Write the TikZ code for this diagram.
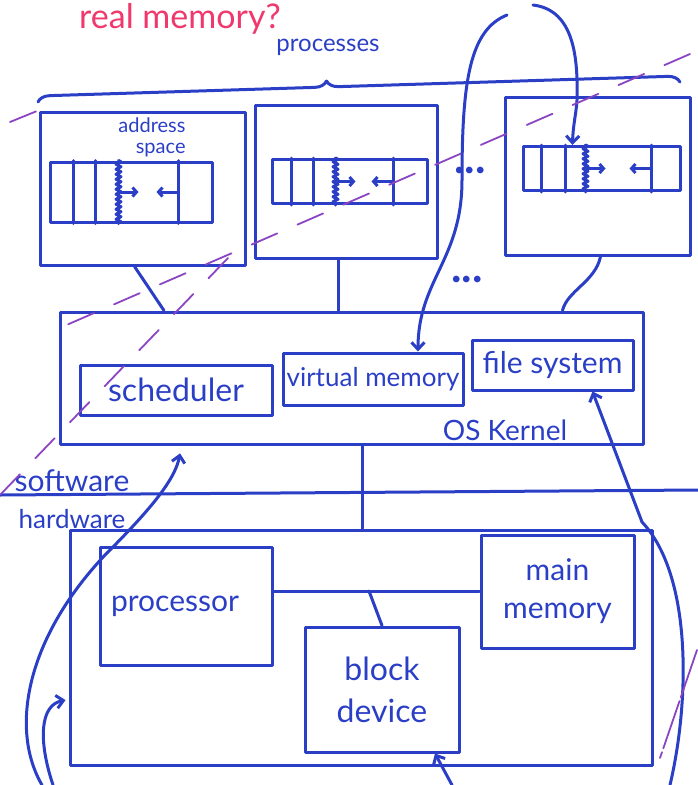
\documentclass[tikz,border=0pt]{standalone}
\usepackage{fontspec}
\setmainfont{Lato}
\usetikzlibrary{arrows.meta, calc, decorations.pathmorphing, decorations.pathreplacing}
\definecolor{inkblue}{HTML}{2B3FC6}
\definecolor{redpen}{HTML}{F0386C}
\definecolor{lilac}{HTML}{8B45C2}
\tikzset{
	>={Straight Barb[length=7pt,width=13pt]}, % puntas abiertas
	box/.style={draw=inkblue, inner sep=0pt}, % cajas dibujadas a mano
	lbl/.style={text=inkblue, font=\fontsize{30}{32}\selectfont}, % texto normal
	small/.style={font=\fontsize{24}{24}\selectfont}, % texto chico
	strip/.style={box, minimum height=44pt}, % espacio de direcciones
	zig/.style={decorate, decoration={zigzag, segment length=5pt, amplitude=2.5pt}},
	dots/.style={lbl, font=\bfseries\fontsize{44}{44}\selectfont},
	dash line/.style={draw=lilac, line width=1.8pt, dash pattern=on 28pt off 22pt}
}

\begin{document}
\begin{tikzpicture}[x=1pt, y=-1pt, line width=3pt, inkblue, line cap=round, line join=round]
	\useasboundingbox (0,0) rectangle (698,785);
	% procesos
	\node[lbl, text=redpen, font=\fontsize{34}{36}\selectfont] (realmem) at (180,19) {real memory?};
	\node[lbl, small] (procs) at (328,47) {processes};
	\node[box, minimum width=205pt, minimum height=153pt] (p1) at (142.5,188.5) {};
	\node[box, minimum width=182pt, minimum height=153pt] (p2) at (346,181.5) {};
	\node[box, minimum width=185pt, minimum height=158pt] (p3) at (597.5,176) {};
	\node[lbl, font=\fontsize{20}{21}\selectfont, align=right] (aspace) at (152,137) {address\\space};
	\node[strip, minimum width=162pt, minimum height=60pt] (s1) at (131,192) {};
	\node[strip, minimum width=155pt] (s2) at (349.5,181.5) {};
	\node[strip, minimum width=157pt] (s3) at (601.5,168.5) {};
	\node[dots] (dots1) at (470,170) {...};
	\node[dots] (dots2) at (467,279) {...};
	\draw[decorate, decoration={brace, amplitude=12pt, aspect=0.45}] (38,102) -- (680,82);
	\foreach \s/\a/\b/\z/\r in {s1/25/47/70/130, s2/21/43/65/123, s3/20/44/64/130} {
		\draw ([xshift=\a pt]\s.north west) -- ([xshift=\a pt]\s.south west);
		\draw ([xshift=\b pt]\s.north west) -- ([xshift=\b pt]\s.south west);
		\draw[zig] ([xshift=\z pt]\s.north west) -- ([xshift=\z pt]\s.south west);
		\draw ([xshift=\r pt]\s.north west) -- ([xshift=\r pt]\s.south west);
		\draw[->, >={Straight Barb[length=4pt,width=9pt]}] ([xshift=\z pt]\s.west) -- ++(20,0);
		\draw[->, >={Straight Barb[length=4pt,width=9pt]}] ([xshift=\r pt]\s.west) -- ++(-22,0);
	}
	% kernel
	\node[box, minimum width=583pt, minimum height=132pt] (kernel) at (351.5,378) {};
	\node[box, lbl, font=\fontsize{32}{34}\selectfont, minimum width=192pt, minimum height=50pt] (sched) at (176,390) {scheduler};
	\node[box, lbl, font=\fontsize{26}{28}\selectfont, minimum width=180pt, minimum height=52pt] (vm) at (373,379) {virtual memory};
	\node[box, lbl, minimum width=161pt, minimum height=50pt] (fs) at (552.5,365) {file system};
	\node[lbl, font=\fontsize{28}{30}\selectfont] (osk) at (505,430) {OS Kernel};
	\draw ([xshift=-8pt]p1.south) -- ($(kernel.north west)!0.18!(kernel.north east)$);
	\draw ([xshift=-8pt]p2.south) -- ([xshift=-8pt]p2.south |- kernel.north);
	\draw ([xshift=3pt]p3.south) .. controls +(-5,25) and +(5,-20) .. ($(kernel.north west)!0.86!(kernel.north east)$);
	% software / hardware
	\coordinate (swl) at (0,495);
	\coordinate (swr) at (698,490);
	\draw (swl) -- (swr);
	\node[lbl, font=\fontsize{30}{32}\selectfont] (swtext) at (72,481) {software};
	\node[lbl, font=\fontsize{26}{28}\selectfont] (hwtext) at (72,519) {hardware};
	% hardware
	\node[box, minimum width=582pt, minimum height=235pt] (hw) at (361,647.5) {};
	\node[box, lbl, minimum width=172pt, minimum height=118pt] (cpu) at (186,606) {processor\hspace*{22pt}};
	\node[box, lbl, font=\fontsize{30}{38}\selectfont, align=center, minimum width=153pt, minimum height=113pt] (mem) at (557.5,591.5) {main\\memory};
	\node[box, lbl, font=\fontsize{32}{42}\selectfont, align=center, minimum width=154pt, minimum height=125pt] (blk) at (382,689.5) {block\\device};
	\coordinate (bus) at (369,591);
	\draw (cpu.east |- bus) -- (mem.west |- bus);
	\draw (bus) -- (blk.north);
	\draw ([xshift=11pt]kernel.south) -- ([xshift=11pt]kernel.south |- hw.north);
	% flechas
	\coordinate (vmsrc) at (507,15);
	\coordinate (p3src) at (533,5);
	\draw[->] (vmsrc) .. controls (470,30) and (462,80) .. (462,180) .. controls (462,260) and (418,280) .. ([xshift=45pt]vm.north);
	\draw[->] (p3src) .. controls (575,10) and (578,60) .. (577,100) .. controls (576,115) and (573,125) .. ([xshift=-29pt]s3.north);
	\coordinate (b1) at (42,785);
	\coordinate (b2) at (53,785);
	\coordinate (b3) at (452,785);
	\coordinate (b4) at (670,785);
	\draw[->, shorten >=8pt] (b1) .. controls (10,730) and (25,640) .. (105,555) .. controls (150,510) and (175,480) .. ($(kernel.south west)!0.21!(kernel.south east)$);
	\draw[->, shorten >=3pt] (b2) .. controls (38,740) and (40,705) .. ([yshift=-52pt]hw.west);
	\draw[->] (b3) -- ([xshift=53pt]blk.south);
	\draw[->] (b4) .. controls (690,700) and (692,575) .. (642,522) -- ([xshift=40pt]fs.south);
	% lineas moradas
	\draw[dash line] (690,54) -- (55,330);
	\draw[dash line] (228,258) -- (0,495);
	\draw[dash line] (10,122) -- (37,111);
	\draw[dash line, dash pattern=on 50pt off 4pt] (697,650) -- (660,758);
\end{tikzpicture}
\end{document}
